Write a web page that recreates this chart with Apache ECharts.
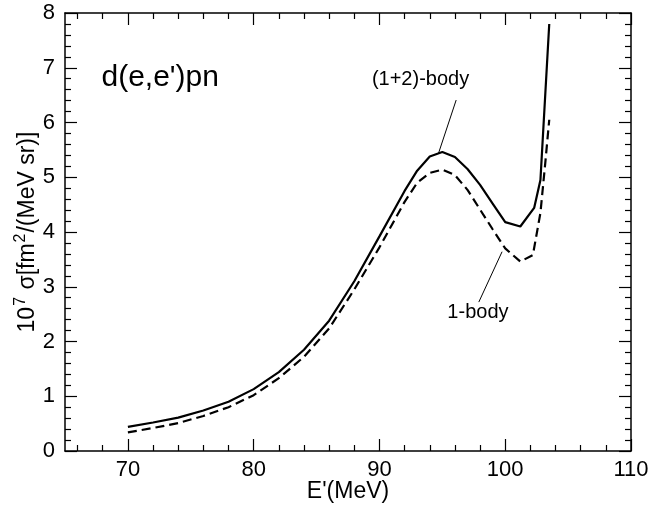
<!DOCTYPE html>
<html>
<head>
<meta charset="utf-8">
<script src="https://cdn.jsdelivr.net/npm/echarts@6/dist/echarts.min.js"></script>
<style>html,body{margin:0;padding:0;background:#fff}#c{width:649px;height:506px}</style>
</head>
<body>
<div id="c"></div>
<script>
// ---- data ----
var bodyX12 = [70, 72, 74, 76, 78, 80, 82, 84, 86, 88, 90, 92, 93, 94, 95, 96, 97, 98, 99, 100, 101.2, 102.3, 102.8, 103.5];
var bodyY12 = [0.44, 0.52, 0.61, 0.74, 0.90, 1.13, 1.44, 1.85, 2.38, 3.10, 3.92, 4.75, 5.12, 5.38, 5.46, 5.37, 5.15, 4.86, 4.52, 4.18, 4.10, 4.44, 4.95, 7.80];
var bodyX1 = [70, 72, 74, 76, 78, 80, 82, 84, 86, 88, 90, 92, 93, 94, 95, 96, 97, 98, 99, 100, 101.2, 102.2, 102.8, 103.2, 103.5];
var bodyY1 = [0.34, 0.42, 0.51, 0.64, 0.80, 1.02, 1.33, 1.72, 2.24, 2.95, 3.72, 4.55, 4.90, 5.08, 5.14, 5.04, 4.77, 4.41, 4.05, 3.70, 3.46, 3.58, 4.35, 5.30, 6.05];
var xMajorTicks = [70, 80, 90, 100, 110];
var xMinorTicks = [66, 68, 72, 74, 76, 78, 82, 84, 86, 88, 92, 94, 96, 98, 102, 104, 106, 108];
var annoText = ["d(e,e')pn", "(1+2)-body", "1-body"];
var annoX = [67.9, 89.4, 95.4];
var annoY = [6.82, 6.79, 2.53];
var leader12 = [[96.1, 6.41], [94.7, 5.44]];
var leader1 = [[99.75, 3.64], [97.9, 2.72]];
var xName = "E'(MeV)";

// ---- chart ----
var FONT = 'Liberation Sans, Arial, Helvetica, sans-serif';
var chart = echarts.init(document.getElementById('c'), null, {renderer: 'canvas'});
function pairs(xs, ys) { return xs.map(function (x, i) { return [x, ys[i]]; }); }
var annoSizes = [30, 20, 20];

function xAx(pos, ticks, len, showLine, showLabel) {
  return {
    type: 'value', min: 65, max: 110, position: pos,
    axisLine: {show: showLine, lineStyle: {color: '#000', width: 1.5}},
    axisTick: {show: true, inside: true, length: len, customValues: ticks, lineStyle: {color: '#000', width: 1.2}},
    axisLabel: {show: showLabel, customValues: xMajorTicks, color: '#000', fontSize: 22, fontFamily: FONT, margin: 8},
    splitLine: {show: false}
  };
}
var xa0 = xAx('bottom', xMajorTicks, 12, true, true);
xa0.name = xName; xa0.nameLocation = 'middle'; xa0.nameGap = 29; xa0.nameMoveOverlap = false;
xa0.nameTextStyle = {fontSize: 23, color: '#000', fontFamily: FONT};

function yAx(pos, showLabel) {
  return {
    type: 'value', min: 0, max: 8, interval: 1, position: pos,
    axisLine: {show: true, lineStyle: {color: '#000', width: 1.5}},
    axisTick: {show: true, inside: true, length: 12, lineStyle: {color: '#000', width: 1.2}},
    minorTick: {show: true, splitNumber: 5, length: 6, lineStyle: {color: '#000', width: 1.2}},
    axisLabel: {show: showLabel, color: '#000', fontSize: 22, fontFamily: FONT, margin: 10},
    splitLine: {show: false}, minorSplitLine: {show: false}
  };
}
var ya0 = yAx('left', true);
ya0.name = '{n|10}{s|7}{n| σ[fm}{s|2}{n|/(MeV sr)]}';
ya0.nameLocation = 'middle'; ya0.nameRotate = 90; ya0.nameGap = 26; ya0.nameMoveOverlap = false;
ya0.nameTextStyle = {
  color: '#000', fontFamily: FONT,
  rich: {
    n: {fontSize: 23, fontFamily: FONT, color: '#000', lineHeight: 26, verticalAlign: 'bottom'},
    s: {fontSize: 16, fontFamily: FONT, color: '#000', lineHeight: 26, verticalAlign: 'top', padding: [0, 1, 12, 1]}
  }
};

var annoData = annoText.map(function (t, i) {
  return {value: [annoX[i], annoY[i]], name: t,
    label: {show: true, position: 'right', distance: 0, fontSize: annoSizes[i], color: '#000', opacity: 1,
      textBorderWidth: 0, fontFamily: FONT}};
});

chart.setOption({
  animation: false,
  backgroundColor: '#fff',
  grid: {left: 65, right: 18, top: 13, bottom: 55, containLabel: false, outerBoundsMode: 'none', show: false},
  xAxis: [xa0, xAx('bottom', xMinorTicks, 6, false, false), xAx('top', xMajorTicks, 12, true, false), xAx('top', xMinorTicks, 6, false, false)],
  yAxis: [ya0, yAx('right', false)],
  series: [
    {type: 'line', data: pairs(bodyX12, bodyY12), symbol: 'none', lineStyle: {color: '#000', width: 2.2}, z: 5},
    {type: 'line', data: pairs(bodyX1, bodyY1), symbol: 'none', lineStyle: {color: '#000', width: 2.2, type: [9, 5]}, z: 5},
    {type: 'line', data: leader12, symbol: 'none', lineStyle: {color: '#000', width: 1}},
    {type: 'line', data: leader1, symbol: 'none', lineStyle: {color: '#000', width: 1}},
    {type: 'scatter', data: annoData, symbolSize: 0, silent: true, itemStyle: {opacity: 1},
      emphasis: {disabled: true},
      label: {show: true, position: 'right', distance: 0, color: '#000', fontFamily: FONT,
        formatter: function (p) { return p.name; }}}
  ]
});
</script>
</body>
</html>
